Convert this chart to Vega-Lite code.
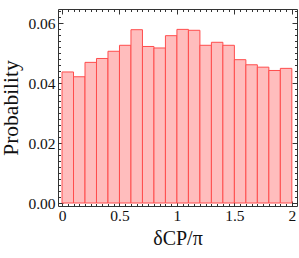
{
  "$schema": "https://vega.github.io/schema/vega-lite/v6.json",
  "width": 239,
  "height": 197,
  "autosize": {"type": "none"},
  "padding": {"left": 58, "top": 9, "right": 2, "bottom": 52},
  "background": "white",
  "config": {
    "view": {"stroke": null},
    "font": "Liberation Serif",
    "axis": {"grid": false, "domainColor": "#333333", "tickColor": "#333333", "labelColor": "#111111", "titleColor": "#111111", "labelFont": "Liberation Serif", "titleFont": "Liberation Serif", "titleFontWeight": "normal", "labelFontSize": 15.5, "domainWidth": 1, "tickWidth": 1}
  },
  "data": {
    "values": [
      {"start": 0.0, "end": 0.1, "p": 0.0437},
      {"start": 0.1, "end": 0.2, "p": 0.0421},
      {"start": 0.2, "end": 0.3, "p": 0.0469},
      {"start": 0.3, "end": 0.4, "p": 0.0482},
      {"start": 0.4, "end": 0.5, "p": 0.0506},
      {"start": 0.5, "end": 0.6, "p": 0.0526},
      {"start": 0.6, "end": 0.7, "p": 0.0578},
      {"start": 0.7, "end": 0.8, "p": 0.0522},
      {"start": 0.8, "end": 0.9, "p": 0.0517},
      {"start": 0.9, "end": 1.0, "p": 0.0558},
      {"start": 1.0, "end": 1.1, "p": 0.0579},
      {"start": 1.1, "end": 1.2, "p": 0.0576},
      {"start": 1.2, "end": 1.3, "p": 0.0526},
      {"start": 1.3, "end": 1.4, "p": 0.0536},
      {"start": 1.4, "end": 1.5, "p": 0.0526},
      {"start": 1.5, "end": 1.6, "p": 0.0478},
      {"start": 1.6, "end": 1.7, "p": 0.0461},
      {"start": 1.7, "end": 1.8, "p": 0.0453},
      {"start": 1.8, "end": 1.9, "p": 0.0442},
      {"start": 1.9, "end": 2.0, "p": 0.0449}
    ]
  },
  "layer": [
    {
      "mark": {"type": "bar", "fill": "#ffbdbd", "fillOpacity": 1, "stroke": "#ff4d4d", "strokeWidth": 1},
      "encoding": {
        "x": {"field": "start", "type": "quantitative", "scale": {"domain": [-0.035, 2.045], "nice": false, "zero": false},
              "axis": {"orient": "bottom", "values": [0, 0.5, 1, 1.5, 2], "format": "~g", "ticks": false, "domain": true, "labelPadding": 2, "labelFlush": false, "title": "δCP/π", "titleFontSize": 20, "titlePadding": 5}},
        "x2": {"field": "end"},
        "y": {"field": "p", "type": "quantitative", "scale": {"domain": [-0.001, 0.0647], "nice": false, "zero": false},
              "axis": {"orient": "left", "values": [0, 0.02, 0.04, 0.06], "format": ".2f", "ticks": false, "domain": true, "labelPadding": 3, "labelFlush": false, "title": "Probability", "titleFontSize": 21.5, "titlePadding": 5}},
        "y2": {"datum": 0}
      }
    },
    {
      "mark": {"type": "bar", "opacity": 0},
      "encoding": {
        "x": {"field": "start", "type": "quantitative", "scale": {"domain": [-0.035, 2.045], "nice": false, "zero": false},
              "axis": {"orient": "bottom", "values": [0, 0.5, 1, 1.5, 2], "labels": false, "domain": false, "ticks": true, "tickSize": 5, "offset": -5, "title": null}},
        "x2": {"field": "end"},
        "y": {"field": "p", "type": "quantitative", "scale": {"domain": [-0.001, 0.0647], "nice": false, "zero": false},
              "axis": {"orient": "left", "values": [0, 0.02, 0.04, 0.06], "labels": false, "domain": false, "ticks": true, "tickSize": 5, "offset": -5, "title": null}},
        "y2": {"datum": 0}
      }
    },
    {
      "mark": {"type": "bar", "opacity": 0},
      "encoding": {
        "x": {"field": "start", "type": "quantitative", "scale": {"domain": [-0.035, 2.045], "nice": false, "zero": false},
              "axis": {"orient": "bottom", "values": [0, 0.05, 0.1, 0.15, 0.2, 0.25, 0.3, 0.35, 0.4, 0.45, 0.5, 0.55, 0.6, 0.65, 0.7, 0.75, 0.8, 0.85, 0.9, 0.95, 1, 1.05, 1.1, 1.15, 1.2, 1.25, 1.3, 1.35, 1.4, 1.45, 1.5, 1.55, 1.6, 1.65, 1.7, 1.75, 1.8, 1.85, 1.9, 1.95, 2], "labels": false, "domain": false, "ticks": true, "tickSize": 2.5, "offset": -2.5, "title": null}},
        "x2": {"field": "end"},
        "y": {"field": "p", "type": "quantitative", "scale": {"domain": [-0.001, 0.0647], "nice": false, "zero": false},
              "axis": {"orient": "left", "values": [0, 0.002, 0.004, 0.006, 0.008, 0.01, 0.012, 0.014, 0.016, 0.018, 0.02, 0.022, 0.024, 0.026, 0.028, 0.03, 0.032, 0.034, 0.036, 0.038, 0.04, 0.042, 0.044, 0.046, 0.048, 0.05, 0.052, 0.054, 0.056, 0.058, 0.06, 0.062, 0.064], "labels": false, "domain": false, "ticks": true, "tickSize": 2.5, "offset": -2.5, "title": null}},
        "y2": {"datum": 0}
      }
    },
    {
      "mark": {"type": "bar", "opacity": 0},
      "encoding": {
        "x": {"field": "start", "type": "quantitative", "scale": {"domain": [-0.035, 2.045], "nice": false, "zero": false},
              "axis": {"orient": "top", "values": [0, 0.5, 1, 1.5, 2], "labels": false, "domain": false, "ticks": true, "tickSize": 5, "offset": -5, "title": null}},
        "x2": {"field": "end"},
        "y": {"field": "p", "type": "quantitative", "scale": {"domain": [-0.001, 0.0647], "nice": false, "zero": false},
              "axis": {"orient": "right", "values": [0, 0.02, 0.04, 0.06], "labels": false, "domain": false, "ticks": true, "tickSize": 5, "offset": -5, "title": null}},
        "y2": {"datum": 0}
      }
    },
    {
      "mark": {"type": "bar", "opacity": 0},
      "encoding": {
        "x": {"field": "start", "type": "quantitative", "scale": {"domain": [-0.035, 2.045], "nice": false, "zero": false},
              "axis": {"orient": "top", "values": [0, 0.05, 0.1, 0.15, 0.2, 0.25, 0.3, 0.35, 0.4, 0.45, 0.5, 0.55, 0.6, 0.65, 0.7, 0.75, 0.8, 0.85, 0.9, 0.95, 1, 1.05, 1.1, 1.15, 1.2, 1.25, 1.3, 1.35, 1.4, 1.45, 1.5, 1.55, 1.6, 1.65, 1.7, 1.75, 1.8, 1.85, 1.9, 1.95, 2], "labels": false, "domain": false, "ticks": true, "tickSize": 2.5, "offset": -2.5, "title": null}},
        "x2": {"field": "end"},
        "y": {"field": "p", "type": "quantitative", "scale": {"domain": [-0.001, 0.0647], "nice": false, "zero": false},
              "axis": {"orient": "right", "values": [0, 0.002, 0.004, 0.006, 0.008, 0.01, 0.012, 0.014, 0.016, 0.018, 0.02, 0.022, 0.024, 0.026, 0.028, 0.03, 0.032, 0.034, 0.036, 0.038, 0.04, 0.042, 0.044, 0.046, 0.048, 0.05, 0.052, 0.054, 0.056, 0.058, 0.06, 0.062, 0.064], "labels": false, "domain": false, "ticks": true, "tickSize": 2.5, "offset": -2.5, "title": null}},
        "y2": {"datum": 0}
      }
    },
    {
      "mark": {"type": "bar", "opacity": 0},
      "encoding": {
        "x": {"field": "start", "type": "quantitative", "scale": {"domain": [-0.035, 2.045], "nice": false, "zero": false},
              "axis": {"orient": "top", "values": [0], "labels": false, "domain": true, "ticks": false, "title": null}},
        "x2": {"field": "end"},
        "y": {"field": "p", "type": "quantitative", "scale": {"domain": [-0.001, 0.0647], "nice": false, "zero": false},
              "axis": {"orient": "right", "values": [0], "labels": false, "domain": true, "ticks": false, "title": null}},
        "y2": {"datum": 0}
      }
    }
  ],
  "resolve": {"axis": {"x": "independent", "y": "independent"}}
}
